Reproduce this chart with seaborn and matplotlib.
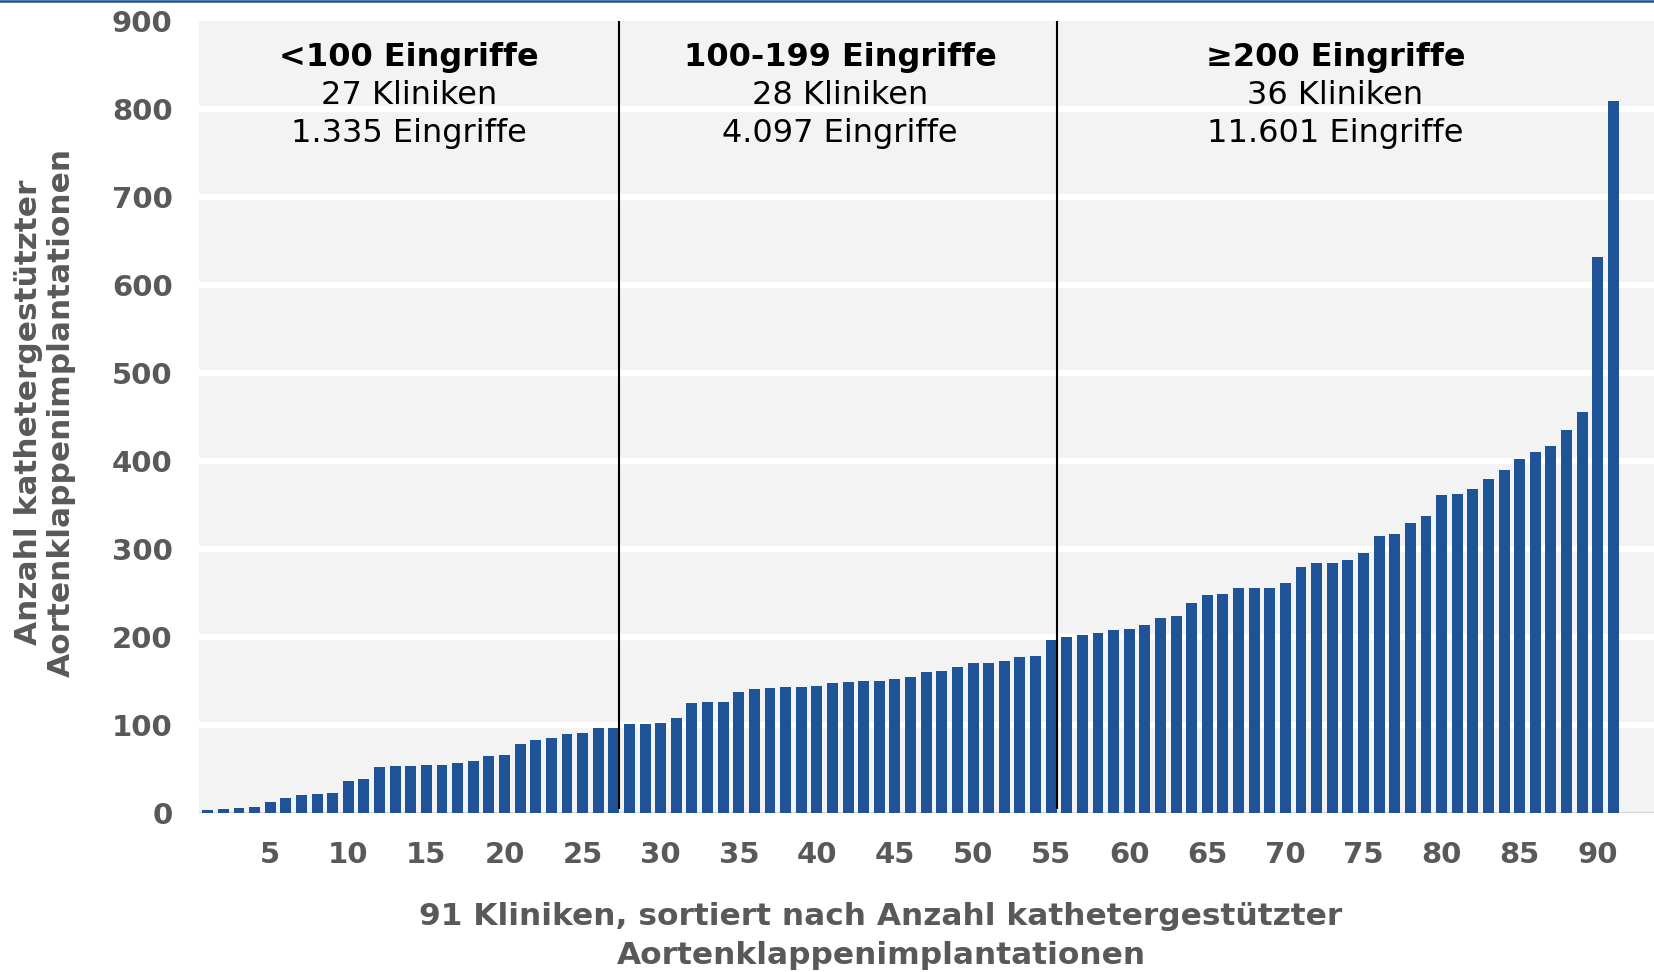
import numpy as np
import pandas as pd
import seaborn as sns
import matplotlib.pyplot as plt
from matplotlib.lines import Line2D

# Eingriffe je Klinik, aufsteigend sortiert
werte_unter100 = [3, 5, 6, 7, 12, 17, 21, 22, 23, 36, 39, 52, 53, 53, 54, 55, 57, 59,
                  65, 66, 78, 83, 85, 90, 91, 97, 97]
werte_100_199 = [101, 101, 102, 108, 125, 126, 126, 137, 141, 142, 143, 143, 144, 148,
                 149, 150, 150, 152, 155, 160, 161, 166, 171, 171, 173, 177, 178, 197]
werte_ab200 = [200, 202, 205, 208, 209, 214, 222, 224, 239, 248, 249, 256, 256, 256,
               261, 280, 284, 284, 287, 296, 315, 317, 330, 337, 361, 362, 368, 380,
               390, 402, 410, 417, 435, 456, 632, 809]

gruppen_titel = ['<100 Eingriffe', '100-199 Eingriffe', '\u2265200 Eingriffe']
gruppen_kliniken = ['27 Kliniken', '28 Kliniken', '36 Kliniken']
gruppen_eingriffe = ['1.335 Eingriffe', '4.097 Eingriffe', '11.601 Eingriffe']

werte = werte_unter100 + werte_100_199 + werte_ab200
klinik = list(range(1, len(werte) + 1))
df = pd.DataFrame({'klinik': klinik, 'eingriffe': werte})

blau = '#1F5397'
grau = '#595959'

plt.rcParams['font.family'] = ['DejaVu Sans']

fig = plt.figure(figsize=(16.54, 9.72), dpi=100)
ax = fig.add_axes([199/1654, 1 - 813/972, 1 - 199/1654, (813 - 21)/972])
ax.set_facecolor('#F3F3F3')

sns.barplot(data=df, x='klinik', y='eingriffe', color=blau, width=0.7,
            saturation=1, ax=ax, zorder=3)

ax.set_xlim(-0.56, 92.6)
ax.set_ylim(0, 900)
ax.set_yticks(range(0, 901, 100))
ax.set_xticks(range(4, 91, 5))
ax.set_xticklabels([str(i) for i in range(5, 91, 5)])

for y in range(100, 900, 100):
    ax.axhline(y, color='white', lw=4.5, zorder=1)
ax.axhline(0, color='#D9D9D9', lw=2.5, zorder=2)

for s in ax.spines.values():
    s.set_visible(False)
ax.tick_params(length=0, labelsize=21, labelcolor=grau)
ax.tick_params(axis='x', pad=20)
ax.tick_params(axis='y', pad=19)
for lab in ax.get_xticklabels() + ax.get_yticklabels():
    lab.set_fontweight('bold')
ax.set_xlabel('')
ax.set_ylabel('')

# Trennlinien zwischen den Gruppen
grenzen = [len(werte_unter100) - 0.65, len(werte_unter100) + len(werte_100_199) - 0.63]
ax.vlines(grenzen, 5, 900, color='black', lw=1.5, zorder=4)

mitten = [12.9, 40.5, 72.2]
for xm, t, k, e in zip(mitten, gruppen_titel, gruppen_kliniken, gruppen_eingriffe):
    ax.text(xm, 858, t, ha='center', va='center', fontsize=23, fontweight='bold', color='black')
    ax.text(xm, 815, k, ha='center', va='center', fontsize=23, color='black')
    ax.text(xm, 772, e, ha='center', va='center', fontsize=23, color='black')

fig.text(45/1654, 1 - 412/972, 'Anzahl kathetergestützter\nAortenklappenimplantationen',
         rotation=90, ha='center', va='center', fontsize=22.5, fontweight='bold',
         color=grau, linespacing=1.2)
fig.text(881/1654, 1 - 936/972,
         '91 Kliniken, sortiert nach Anzahl kathetergestützter\nAortenklappenimplantationen',
         ha='center', va='center', fontsize=22.5, fontweight='bold', color=grau,
         linespacing=1.42)

fig.add_artist(Line2D([0, 1], [1 - 1/972, 1 - 1/972], color=blau, lw=1.8,
                      transform=fig.transFigure))

fig.savefig('out.png', dpi=100)
